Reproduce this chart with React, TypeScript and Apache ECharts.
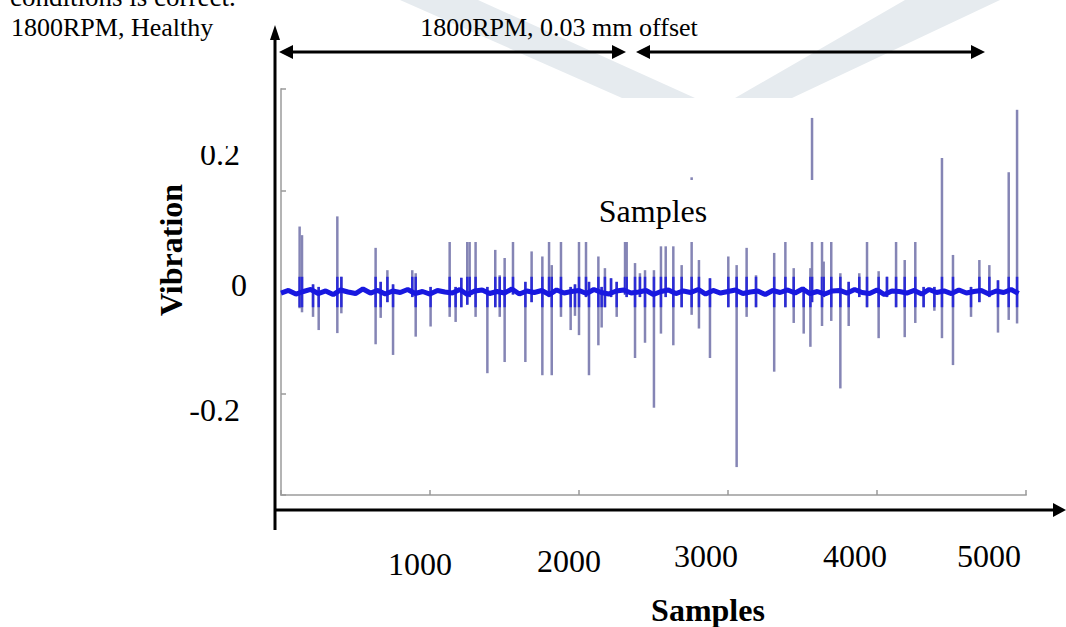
import React, { useEffect, useRef } from "react";
import * as echarts from "echarts";

// Impulse spikes: sample index, positive peak, negative peak
const spikeSamples = [125, 141, 215, 253, 378, 405, 635, 669, 714, 752, 881, 904, 1004, 1132, 1172, 1210, 1250, 1266, 1306, 1385, 1438, 1468, 1501, 1557, 1640, 1682, 1754, 1799, 1817, 1879, 1944, 1973, 2000, 2047, 2067, 2130, 2152, 2174, 2215, 2253, 2309, 2320, 2376, 2409, 2443, 2503, 2550, 2582, 2633, 2689, 2756, 2805, 2879, 3002, 3058, 3125, 3188, 3310, 3385, 3441, 3508, 3553, 3564, 3631, 3642, 3693, 3754, 3810, 3881, 3933, 4011, 4067, 4128, 4186, 4257, 4313, 4385, 4436, 4510, 4631, 4687, 4754, 4812, 4884, 4940];
const spikeTops = [0.129, 0.112, 0.015, 0.01, 0.149, 0.03, 0.087, 0.02, 0.043, 0.015, 0.043, 0.037, 0.01, 0.15, 0.01, 0.028, 0.16, 0.12, 0.18, 0.01, 0.083, 0.033, 0.067, 0.13, 0.02, 0.08, 0.07, 0.14, 0.053, 0.17, 0.01, 0.015, 0.16, 0.13, 0.02, 0.07, 0.01, 0.047, 0.027, 0.02, 0.18, 0.15, 0.057, 0.037, 0.043, 0.043, 0.09, 0.09, 0.09, 0.053, 0.226, 0.063, 0.027, 0.07, 0.053, 0.087, 0.033, 0.077, 0.15, 0.047, 0.01, 0.047, 0.343, 0.16, 0.06, 0.14, 0.037, 0.02, 0.037, 0.12, 0.041, 0.03, 0.17, 0.063, 0.15, 0.01, 0.01, 0.264, 0.073, 0.01, 0.063, 0.053, 0.023, 0.236, 0.359];
const spikeBottoms = [-0.032, -0.04, -0.049, -0.075, -0.081, -0.042, -0.103, -0.051, -0.02, -0.124, -0.01, -0.088, -0.068, -0.049, -0.059, -0.03, -0.025, -0.01, -0.049, -0.16, -0.03, -0.049, -0.138, -0.005, -0.138, -0.02, -0.164, -0.01, -0.164, -0.049, -0.075, -0.047, -0.085, -0.01, -0.164, -0.105, -0.07, -0.03, -0.01, -0.049, -0.005, -0.01, -0.13, -0.01, -0.1, -0.228, -0.082, -0.01, -0.105, -0.03, -0.045, -0.072, -0.13, -0.03, -0.345, -0.049, -0.03, -0.157, -0.03, -0.061, -0.082, -0.108, -0.02, -0.067, -0.01, -0.057, -0.19, -0.067, -0.01, -0.03, -0.091, -0.01, -0.03, -0.089, -0.061, -0.03, -0.037, -0.091, -0.144, -0.049, -0.02, -0.01, -0.08, -0.055, -0.062];

// Baseline noise, one reading every 50 samples
const baselineStep = 50;
const baselineValues = [-0.002, 0.003, -0.004, 0.001, 0.005, -0.003, 0.002, -0.005, 0.004, 0, -0.003, 0.006, -0.002, 0.003, -0.004, 0.002, -0.001, 0.005, -0.003, 0.001, -0.004, 0.003, 0, -0.002, 0.005, -0.005, 0.002, 0.004, -0.003, 0.001, -0.002, 0.006, -0.004, 0.002, -0.001, 0.003, -0.005, 0.004, -0.002, 0.001, 0.003, -0.003, 0.005, -0.001, -0.004, 0.002, 0.004, -0.002, 0, 0.003, -0.005, 0.001, 0.004, -0.003, 0.002, -0.001, 0.005, -0.004, 0.003, -0.002, 0.001, 0.004, -0.003, 0, 0.002, -0.005, 0.003, -0.001, 0.004, -0.002, 0.006, -0.003, 0.001, -0.004, 0.002, 0.003, -0.002, 0.005, -0.001, -0.003, 0.004, -0.005, 0.002, 0.001, -0.002, 0.003, -0.004, 0.005, -0.001, 0.002, -0.003, 0.004, -0.002, 0.001, 0.003, -0.004, 0.002, -0.001, 0.005, -0.003];

const xTickLabels = ["1000", "2000", "3000", "4000", "5000"];
const yTickLabels = ["0.2", "0", "-0.2"];
const conditionLabels = ["1800RPM, Healthy", "1800RPM, 0.03 mm offset"];
const xAxisTitle = "Samples";
const yAxisTitle = "Vibration";
const innerTitle = "Samples";
const cutCaption = "conditions is correct.";

const SERIF = '"Liberation Serif", "Times New Roman", serif';

export default function App() {
  const ref = useRef<HTMLDivElement>(null);

  useEffect(() => {
    const chart = echarts.init(ref.current!, null, { renderer: "svg" });
    const spikeData = spikeSamples.map((s, i) => [s, spikeTops[i], spikeBottoms[i]]);
    const baseData = baselineValues.map((v, i) => [i * baselineStep, v]);

    const xLabelPos = [
      [420, 564],
      [569, 561],
      [706, 556],
      [855, 556],
      [989, 556],
    ];
    const yLabelPos = [
      [240, 154],
      [247, 285],
      [240, 410],
    ];

    const arrowColor = "#000";
    const wm = "#e6ebef";

    const txt = (text: string, x: number, y: number, font: string, align: string, extra: any = {}) => ({
      type: "text", z: 50, x, y, ...extra,
      style: { text, font, fill: "#000", align, verticalAlign: "middle", textAlign: align, textVerticalAlign: "middle" },
    });

    const elements: any[] = [
      // watermark fragments at the top
      { type: "polygon", z: 0, shape: { points: [[400, 0], [478, 0], [695, 98], [622, 98]] }, style: { fill: wm } },
      { type: "polygon", z: 0, shape: { points: [[735, 98], [792, 98], [1000, 0], [905, 0]] }, style: { fill: wm } },
      // cut caption at very top (cropped in the source)
      txt(cutCaption, 10, -3, `27px ${SERIF}`, "left"),
      // condition labels
      txt(conditionLabels[0], 11, 27, `26px ${SERIF}`, "left"),
      txt(conditionLabels[1], 559, 27, `26px ${SERIF}`, "center"),
      // double arrows
      { type: "line", z: 50, shape: { x1: 288, y1: 52, x2: 617, y2: 52 }, style: { stroke: arrowColor, lineWidth: 3 } },
      { type: "polygon", z: 50, shape: { points: [[279, 52], [293, 45], [293, 59]] }, style: { fill: arrowColor } },
      { type: "polygon", z: 50, shape: { points: [[626, 52], [612, 45], [612, 59]] }, style: { fill: arrowColor } },
      { type: "line", z: 50, shape: { x1: 645, y1: 52, x2: 976, y2: 52 }, style: { stroke: arrowColor, lineWidth: 3 } },
      { type: "polygon", z: 50, shape: { points: [[636, 52], [650, 45], [650, 59]] }, style: { fill: arrowColor } },
      { type: "polygon", z: 50, shape: { points: [[985, 52], [971, 45], [971, 59]] }, style: { fill: arrowColor } },
      // outer vertical axis arrow
      { type: "line", z: 50, shape: { x1: 275, y1: 36, x2: 275, y2: 530 }, style: { stroke: arrowColor, lineWidth: 3 } },
      { type: "polygon", z: 50, shape: { points: [[275, 25], [270, 40], [280, 40]] }, style: { fill: arrowColor } },
      // outer horizontal axis arrow
      { type: "line", z: 50, shape: { x1: 274, y1: 510, x2: 1056, y2: 510 }, style: { stroke: arrowColor, lineWidth: 3 } },
      { type: "polygon", z: 50, shape: { points: [[1066, 510], [1053, 503], [1053, 517]] }, style: { fill: arrowColor } },
      // white panel with inner "Samples"
      { type: "rect", z: 60, shape: { x: 440, y: 180, width: 490, height: 62 }, style: { fill: "#fff" } },
      { ...txt(innerTitle, 653, 211, `32px ${SERIF}`, "center"), z: 61 },
      // axis titles
      txt(yAxisTitle, 171, 250, `bold 32px ${SERIF}`, "center", { rotation: Math.PI / 2 }),
      txt(xAxisTitle, 708, 610, `bold 32px ${SERIF}`, "center"),
    ];

    xTickLabels.forEach((t, i) => {
      elements.push(txt(t, xLabelPos[i][0], xLabelPos[i][1], `32px ${SERIF}`, "center"));
    });
    yTickLabels.forEach((t, i) => {
      elements.push(txt(t, yLabelPos[i][0], yLabelPos[i][1], `32px ${SERIF}`, "right"));
    });
    // clip the top of "0.2" as in the source
    elements.push({ type: "rect", z: 55, shape: { x: 190, y: 125, width: 60, height: 21 }, style: { fill: "#fff" } });

    chart.setOption({
      animation: false,
      backgroundColor: "#fff",
      grid: { left: 281, right: 40, top: 89, bottom: 132, containLabel: false },
      xAxis: {
        type: "value", min: 0, max: 5000, interval: 1000,
        axisLine: { onZero: false, lineStyle: { color: "#b4b4b4", width: 2 } },
        axisTick: { inside: true, length: 5, lineStyle: { color: "#9a9a9a", width: 1.5 } },
        axisLabel: { show: false },
        splitLine: { show: false },
      },
      yAxis: {
        type: "value", min: -0.4, max: 0.4, interval: 0.2,
        axisLine: { show: true, onZero: false, lineStyle: { color: "#b4b4b4", width: 2 } },
        axisTick: { show: true, inside: true, length: 5, lineStyle: { color: "#9a9a9a", width: 1.5 } },
        axisLabel: { show: false },
        splitLine: { show: false },
      },
      graphic: { elements },
      series: [
        {
          type: "custom",
          z: 2,
          data: spikeData,
          encode: { x: 0, y: [1, 2] },
          renderItem: (params: any, api: any) => {
            const x = api.value(0);
            const top = api.value(1);
            const bot = api.value(2);
            const p1 = api.coord([x, top]);
            const p2 = api.coord([x, bot]);
            const c1 = api.coord([x, Math.min(top, 0.03)]);
            const c2 = api.coord([x, Math.max(bot, -0.03)]);
            return {
              type: "group",
              children: [
                { type: "line", shape: { x1: p1[0], y1: p1[1], x2: p2[0], y2: p2[1] }, style: { stroke: "#8585b5", lineWidth: 2.5 } },
                { type: "line", shape: { x1: c1[0], y1: c1[1], x2: c2[0], y2: c2[1] }, style: { stroke: "#2b2bd6", lineWidth: 2.5 } },
              ],
            };
          },
        },
        {
          type: "line",
          z: 3,
          data: baseData,
          showSymbol: false,
          symbol: "none",
          lineStyle: { color: "#1818e0", width: 5 },
        },
      ],
    });

    return () => chart.dispose();
  }, []);

  return (
    <div
      ref={ref}
      style={{ position: "fixed", left: 0, top: 0, width: 1066, height: 627, background: "#fff" }}
    />
  );
}
